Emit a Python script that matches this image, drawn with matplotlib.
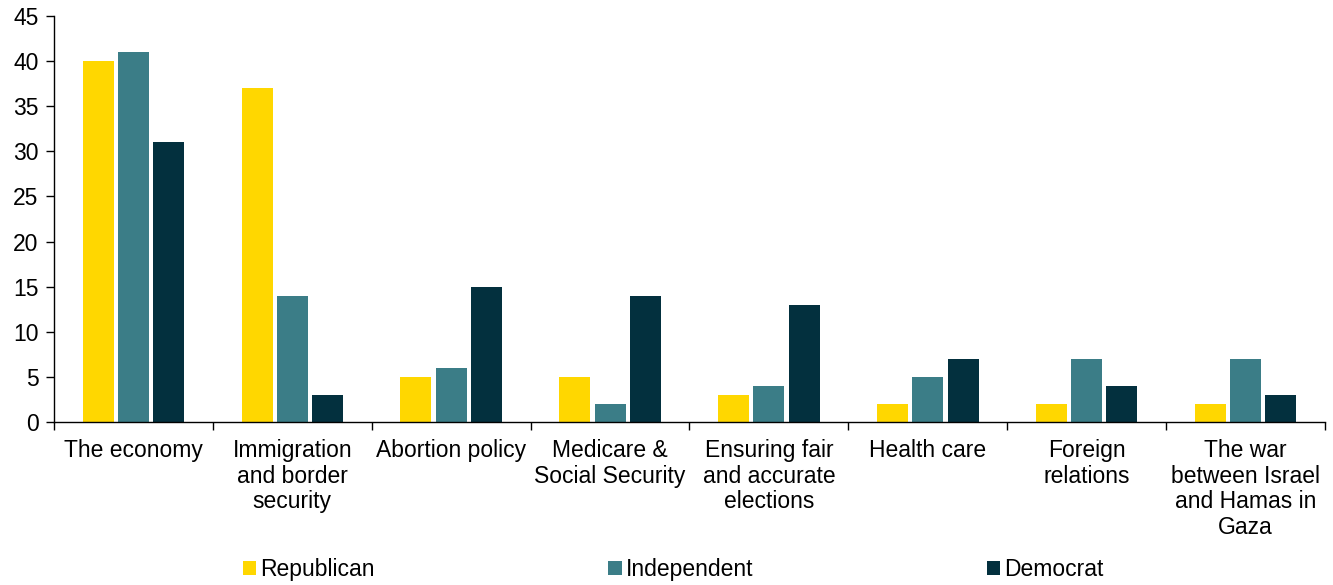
import matplotlib
matplotlib.use("Agg")
import matplotlib.pyplot as plt
import numpy as np

categories = ["The economy", "Immigration\nand border\nsecurity", "Abortion policy",
              "Medicare &\nSocial Security", "Ensuring fair\nand accurate\nelections",
              "Health care", "Foreign\nrelations", "The war\nbetween Israel\nand Hamas in\nGaza"]
republican = [40, 37, 5, 5, 3, 2, 2, 2]
independent = [41, 14, 6, 2, 4, 5, 7, 7]
democrat = [31, 3, 15, 14, 13, 7, 4, 3]

C_REP, C_IND, C_DEM = "#FFD700", "#3B7D87", "#03303E"
INK = "#000000"
FS = 16.5

plt.rcParams["font.family"] = ["Liberation Sans", "DejaVu Sans"]

fig = plt.figure(figsize=(13.33, 5.85), dpi=100)
ax = fig.add_axes([0.0405, 0.2786, 0.9535, 0.694])

x = np.arange(len(categories))
w, off = 0.195, 0.222
ax.bar(x - off, republican, w, color=C_REP, label="Republican")
ax.bar(x, independent, w, color=C_IND, label="Independent")
ax.bar(x + off, democrat, w, color=C_DEM, label="Democrat")

ax.set_xlim(-0.5, len(categories) - 0.5)
ax.set_ylim(0, 45)
ax.set_yticks(range(0, 46, 5))
ax.tick_params(axis="y", labelsize=FS, length=6, width=1, colors=INK, pad=5)

# category boundary ticks, labels centred between them
ax.set_xticks(np.arange(-0.5, len(categories), 1.0))
ax.set_xticklabels([])
ax.tick_params(axis="x", length=6, width=1)
ax.set_xticks(x, minor=True)
ax.set_xticklabels(categories, minor=True, fontsize=FS, va="top", linespacing=1.16)
ax.tick_params(axis="x", which="minor", length=0, pad=12)

for s in ("top", "right"):
    ax.spines[s].set_visible(False)
for s in ("left", "bottom"):
    ax.spines[s].set_color(INK)
    ax.spines[s].set_linewidth(1)

fig.legend(loc="lower center", bbox_to_anchor=(0.505, -0.029), ncol=3, frameon=False,
           fontsize=FS, columnspacing=10.2, handlelength=0.57, handleheight=0.57,
           handletextpad=0.17)

fig.savefig("out.png", dpi=100, facecolor="white")
